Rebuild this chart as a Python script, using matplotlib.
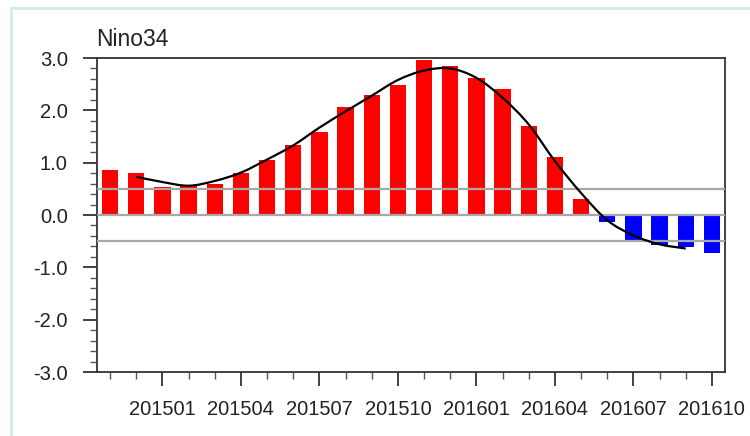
import numpy as np
import matplotlib
matplotlib.use("Agg")
import matplotlib.pyplot as plt
from matplotlib.path import Path
from matplotlib.patches import PathPatch, Rectangle

plt.rcParams["font.family"] = ["Liberation Sans", "DejaVu Sans"]

# ============================================================
# DATA — monthly Nino3.4 index, 201411..201610
# ============================================================
months = ["201411", "201412", "201501", "201502", "201503", "201504",
          "201505", "201506", "201507", "201508", "201509", "201510",
          "201511", "201512", "201601", "201602", "201603", "201604",
          "201605", "201606", "201607", "201608", "201609", "201610"]
nino34 = [0.86, 0.80, 0.53, 0.57, 0.59, 0.80, 1.05, 1.34, 1.59, 2.07, 2.29, 2.49,
          2.96, 2.84, 2.61, 2.40, 1.70, 1.10, 0.30, -0.13, -0.48, -0.57, -0.62, -0.73]

# 3-month running mean, 201412..201609
smooth_months = months[1:-1]
smooth_vals = [0.73, 0.63, 0.56, 0.65, 0.81, 1.06, 1.33, 1.67, 1.98, 2.28, 2.58,
               2.76, 2.80, 2.62, 2.24, 1.73, 1.03, 0.42, -0.10, -0.39, -0.56, -0.64]

tick_labels = ["201501", "201504", "201507", "201510", "201601", "201604", "201607", "201610"]
thresholds = [-0.5, 0.0, 0.5]


def smooth_path(xs, ys):
    # Catmull-Rom through the points, written as cubic Bezier segments
    pts = np.column_stack([xs, ys]).astype(float)
    verts = [pts[0]]
    codes = [Path.MOVETO]
    n = len(pts)
    for i in range(n - 1):
        p0 = pts[max(i - 1, 0)]
        p1 = pts[i]
        p2 = pts[i + 1]
        p3 = pts[min(i + 2, n - 1)]
        c1 = p1 + (p2 - p0) / 6.0
        c2 = p2 - (p3 - p1) / 6.0
        verts += [c1, c2, p2]
        codes += [Path.CURVE4] * 3
    return Path(verts, codes)


# ============================================================
# PLOT
# ============================================================
fig = plt.figure(figsize=(7.5, 4.36), dpi=100)
ax = fig.add_axes([97 / 750, 1 - 372 / 436, 628 / 750, 314 / 436])

x = np.arange(len(months))
vals = np.array(nino34)
colors = np.where(vals >= 0, "#ff0000", "#0000ff")
ax.bar(x, vals, width=0.62, color=colors, zorder=2)

for t in thresholds:
    ax.axhline(t, color="#a8a8a8", linewidth=1.6, zorder=3)

xs = [months.index(m) for m in smooth_months]
ax.add_patch(PathPatch(smooth_path(xs, smooth_vals), facecolor="none",
                       edgecolor="black", linewidth=1.6, zorder=4))

ax.set_xlim(-0.5, len(months) - 0.5)
ax.set_ylim(-3.0, 3.0)

ax.set_yticks(np.arange(-3.0, 3.01, 1.0))
ax.set_yticks(np.arange(-3.0, 3.01, 0.2), minor=True)
ax.set_yticklabels([f"{v:.1f}" for v in np.arange(-3.0, 3.01, 1.0)])

ax.set_xticks([months.index(m) for m in tick_labels])
ax.set_xticklabels(tick_labels)
ax.set_xticks(x, minor=True)

ax.tick_params(axis="both", which="major", direction="out", length=10, width=1.3,
               labelsize=14.5, colors="#333333", labelcolor="#222222")
ax.tick_params(axis="both", which="minor", direction="out", length=5, width=1.0,
               colors="#555555")
ax.tick_params(axis="x", which="major", pad=10)
ax.tick_params(axis="y", which="major", pad=11)

for s in ax.spines.values():
    s.set_linewidth(1.3)
    s.set_color("#333333")

fig.text(96 / 750, 1 - 46 / 436, "Nino34", fontsize=16.5, color="#222222",
         ha="left", va="baseline")

# light frame around the panel
fig.patches.append(Rectangle((11 / 750, -0.1), 1.2, 1 - 8 / 436 + 0.1,
                             transform=fig.transFigure, facecolor="none",
                             edgecolor="#d3e9ee", linewidth=2.0))

fig.savefig("out.png", dpi=100)
